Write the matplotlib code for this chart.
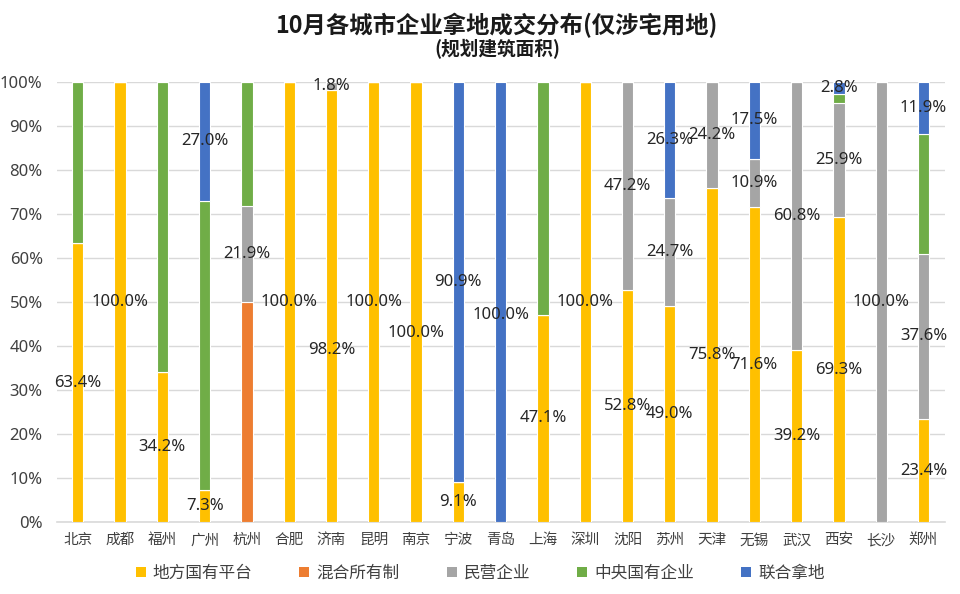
import matplotlib

matplotlib.use("Agg")

import matplotlib.pyplot as plt
import numpy as np
from matplotlib.patches import Patch
from matplotlib.ticker import FuncFormatter

plt.rcParams["font.family"] = ["Noto Sans CJK SC", "DejaVu Sans"]

cities = ["北京", "成都", "福州", "广州", "杭州", "合肥", "济南", "昆明", "南京", "宁波", "青岛",
          "上海", "深圳", "沈阳", "苏州", "天津", "无锡", "武汉", "西安", "长沙", "郑州"]

# 各类企业占比(%)
local_soe = [63.4, 100.0, 34.2, 7.3, 0, 100.0, 98.2, 100.0, 100.0, 9.1, 0,
             47.1, 100.0, 52.8, 49.0, 75.8, 71.6, 39.2, 69.3, 0, 23.4]
mixed = [0, 0, 0, 0, 50.0, 0, 0, 0, 0, 0, 0,
         0, 0, 0, 0, 0, 0, 0, 0, 0, 0]
private = [0, 0, 0, 0, 21.9, 0, 1.8, 0, 0, 0, 0,
           0, 0, 47.2, 24.7, 24.2, 10.9, 60.8, 25.9, 100.0, 37.6]
central_soe = [36.6, 0, 65.8, 65.7, 28.1, 0, 0, 0, 0, 0, 0,
               52.9, 0, 0, 0, 0, 0, 0, 2.0, 0, 27.1]
joint = [0, 0, 0, 27.0, 0, 0, 0, 0, 0, 90.9, 100.0,
         0, 0, 0, 26.3, 0, 17.5, 0, 2.8, 0, 11.9]

series = [
    ("地方国有平台", local_soe, "#FFC000", True),
    ("混合所有制", mixed, "#ED7D31", False),
    ("民营企业", private, "#A5A5A5", True),
    ("中央国有企业", central_soe, "#70AD47", False),
    ("联合拿地", joint, "#4472C4", True),
]

# 原图中被手动挪开的数据标签(纵向位置)
moved_labels = {("济南", "地方国有平台"): 0.39,
                ("南京", "地方国有平台"): 0.43,
                ("青岛", "联合拿地"): 0.47}

NUM_FONT = ["Noto Sans", "DejaVu Sans"]

fig = plt.figure(figsize=(9.6, 5.94), dpi=100)
ax = fig.add_axes([0.059, 0.121, 0.925, 0.741])

x = np.arange(len(cities))
bottom = np.zeros(len(cities))
for name, values, color, show_label in series:
    vals = np.array(values) / 100
    ax.bar(x, vals, bottom=bottom, width=0.27, color=color,
           edgecolor="white", linewidth=0.8, zorder=3)
    if show_label:
        for city, xi, b, v in zip(cities, x, bottom, vals):
            if v > 0:
                y = moved_labels.get((city, name), b + v / 2)
                ax.text(xi, y, f"{v * 100:.1f}%", ha="center", va="center",
                        fontsize=12, family=NUM_FONT, color="#262626", zorder=4)
    bottom += vals

ax.set_xlim(-0.5, len(cities) - 0.5)
ax.set_ylim(0, 1)
ax.set_yticks(np.arange(0, 1.01, 0.1))
ax.yaxis.set_major_formatter(FuncFormatter(lambda v, _: f"{v * 100:.0f}%"))
ax.set_xticks(x)
ax.set_xticklabels(cities)
for lbl in ax.get_yticklabels():
    lbl.set_family(NUM_FONT)
ax.tick_params(axis="both", length=0, labelsize=10.5, colors="#404040")
ax.tick_params(axis="y", labelsize=12, pad=10)
ax.tick_params(axis="x", pad=8)
ax.grid(axis="y", color="#D9D9D9", linewidth=1, zorder=0)
for side in ["top", "right", "left"]:
    ax.spines[side].set_visible(False)
ax.spines["bottom"].set_color("#D9D9D9")
ax.spines["bottom"].set_linewidth(1.2)

fig.text(0.517, 0.958, "10月各城市企业拿地成交分布(仅涉宅用地)", ha="center", va="center",
         fontsize=16.8, fontweight="bold", color="#1a1a1a")
fig.text(0.518, 0.917, "(规划建筑面积)", ha="center", va="center",
         fontsize=13.4, fontweight="bold", color="#1a1a1a")

handles = [Patch(facecolor=c, edgecolor="none", label=n) for n, _, c, _ in series]
fig.legend(handles=handles, loc="center", bbox_to_anchor=(0.5, 0.035), ncol=5,
           frameon=False, fontsize=12, handlelength=0.6, handleheight=0.6,
           columnspacing=2.85, handletextpad=0.4, labelcolor="#404040")

fig.savefig("out.png", dpi=100)
